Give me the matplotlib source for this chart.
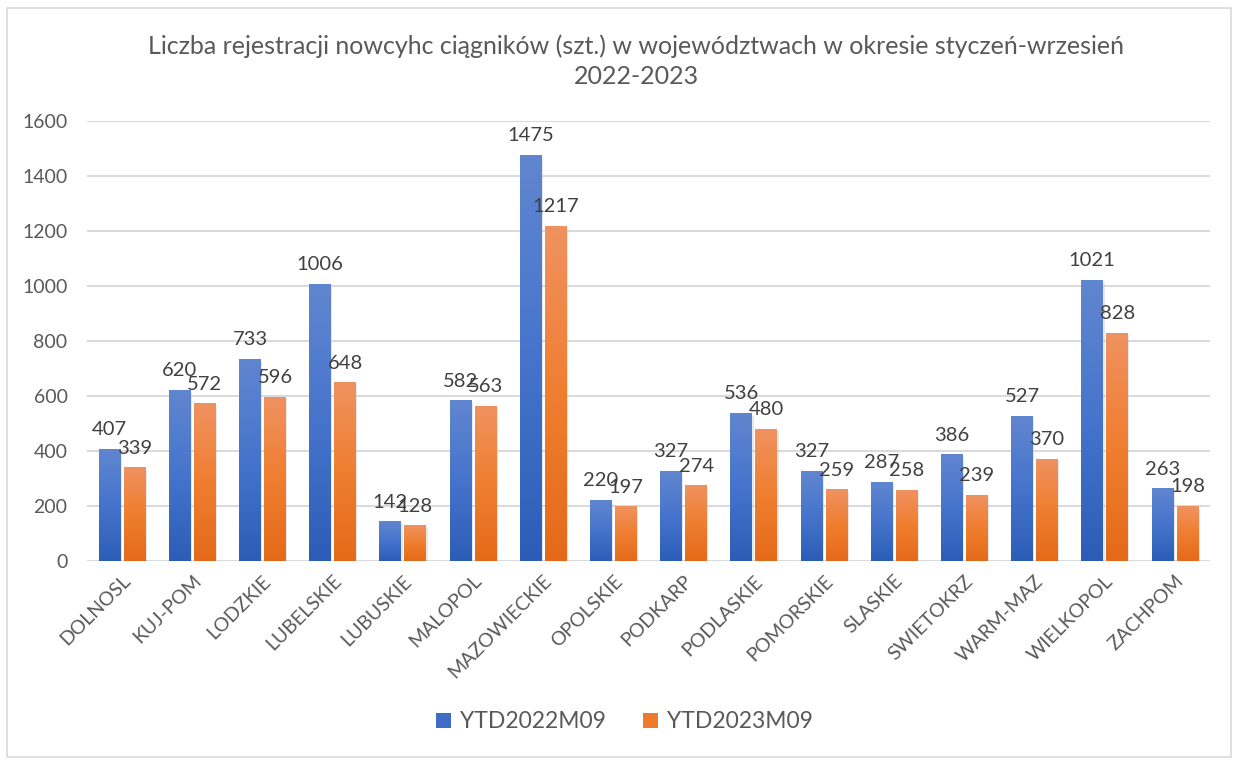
import numpy as np
import matplotlib
matplotlib.use("Agg")
import matplotlib.pyplot as plt
from matplotlib.patches import Patch, Rectangle
from matplotlib.colors import LinearSegmentedColormap

plt.rcParams['font.family'] = ['Lato', 'DejaVu Sans']

# regions (voivodeships)
categories = ['DOLNOSL', 'KUJ-POM', 'LODZKIE', 'LUBELSKIE', 'LUBUSKIE', 'MALOPOL',
              'MAZOWIECKIE', 'OPOLSKIE', 'PODKARP', 'PODLASKIE', 'POMORSKIE',
              'SLASKIE', 'SWIETOKRZ', 'WARM-MAZ', 'WIELKOPOL', 'ZACHPOM']
ytd2022 = [407, 620, 733, 1006, 142, 582, 1475, 220, 327, 536, 327, 287, 386, 527, 1021, 263]
ytd2023 = [339, 572, 596, 648, 128, 563, 1217, 197, 274, 480, 259, 258, 239, 370, 828, 198]
series_names = ['YTD2022M09', 'YTD2023M09']
yticks = [0, 200, 400, 600, 800, 1000, 1200, 1400, 1600]

txt = '#595959'
blue_grad = LinearSegmentedColormap.from_list('b', ['#2C5DB6', '#4674CC', '#6186D0'])
orange_grad = LinearSegmentedColormap.from_list('o', ['#E46A19', '#F07E30', '#EF9260'])

fig = plt.figure(figsize=(12.34, 7.6), dpi=100)
ax = fig.add_axes([87/1234, 1 - 561/760, 1123/1234, 440/760])

# chart border
fig.patches.append(Rectangle((7/1234, 3/760), 1224/1234, 749/760, transform=fig.transFigure,
                             fill=False, edgecolor='#D9D9D9', linewidth=1.2))

x = np.arange(len(categories))
w = 0.31
off = 0.178
b1 = ax.bar(x - off, ytd2022, w, color='none', zorder=3)
b2 = ax.bar(x + off, ytd2023, w, color='none', zorder=3)

grad = np.linspace(0, 1, 256).reshape(-1, 1)
for bars, cmap in [(b1, blue_grad), (b2, orange_grad)]:
    for r in bars:
        x0, y0 = r.get_x(), r.get_y()
        ax.imshow(grad, cmap=cmap, origin='lower', aspect='auto', zorder=3,
                  extent=(x0, x0 + r.get_width(), y0, y0 + r.get_height()))
        # soft shadow
        ax.add_patch(Rectangle((x0 + 0.02, y0), r.get_width(), r.get_height() - 8,
                               color='#BFBFBF', alpha=0.35, zorder=2, lw=0))

for bars, vals in [(b1, ytd2022), (b2, ytd2023)]:
    for r, v in zip(bars, vals):
        ax.annotate(str(v), (r.get_x() + r.get_width() / 2, v), xytext=(0, 8),
                    textcoords='offset points', ha='center', va='bottom',
                    fontsize=14.5, color='#404040', zorder=5)

ax.set_xlim(-0.5, len(categories) - 0.5)
ax.set_ylim(0, 1600)
ax.set_yticks(yticks)
ax.set_yticklabels([str(t) for t in yticks], fontsize=14, color=txt)
ax.set_xticks(x)
ax.set_xticklabels(categories, rotation=45, ha='right', rotation_mode='anchor',
                   fontsize=14, color=txt)
ax.tick_params(axis='both', length=0)
ax.tick_params(axis='y', pad=14)
ax.tick_params(axis='x', pad=8)
ax.grid(axis='y', color='#D9D9D9', linewidth=1.4, zorder=0)
ax.set_axisbelow(True)
for s in ax.spines.values():
    s.set_visible(False)

fig.text(636/1234, 1 - 46/760, 'Liczba rejestracji nowcyhc ciągników (szt.) w województwach w okresie styczeń-wrzesień',
         ha='center', va='center', fontsize=18, color=txt)
fig.text(636/1234, 1 - 77/760, '2022-2023', ha='center', va='center', fontsize=18, color=txt)

handles = [Patch(facecolor='#3F6CC4', edgecolor='none'), Patch(facecolor='#EE7A2C', edgecolor='none')]
fig.legend(handles, series_names, loc='center', bbox_to_anchor=(0.506, 1 - 722/760), ncol=2,
           frameon=False, fontsize=16.5, labelcolor=txt, handlelength=0.65, handleheight=0.65,
           handletextpad=0.4, columnspacing=1.6)

fig.savefig('out.png', dpi=100, facecolor='white')
